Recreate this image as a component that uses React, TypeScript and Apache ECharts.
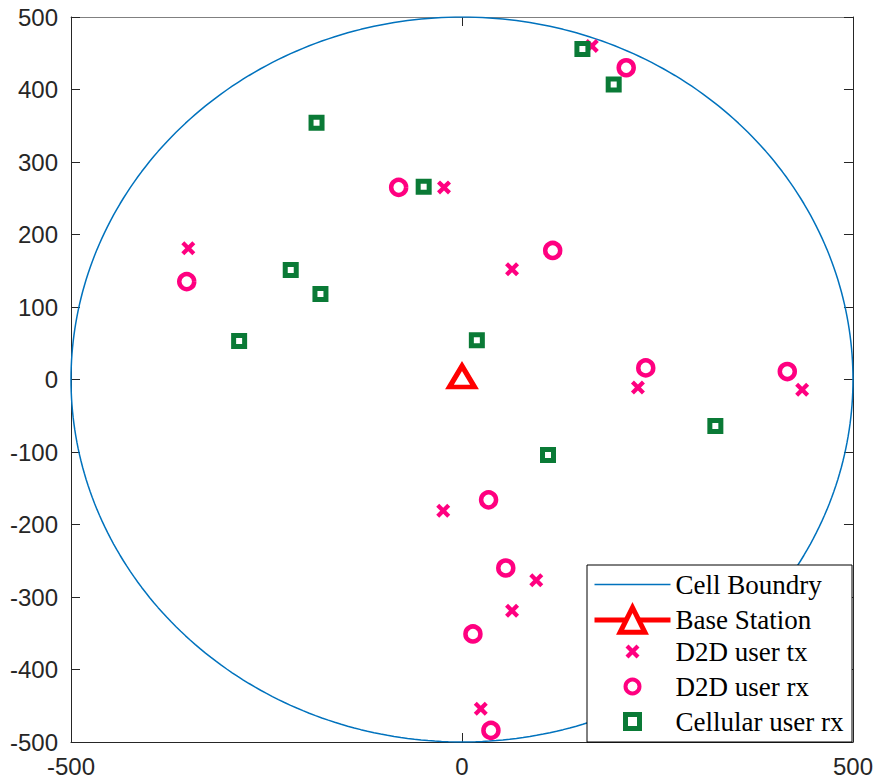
import React, { useEffect, useRef } from "react";
import * as echarts from "echarts";

// Cell geometry
const cellRadius = 500;
const circleSegments = 360;

// Base station position
const bsX = [0];
const bsY = [0];

// D2D transmitters
const txX = [-350, -23, 64, 166, 225, 435, -24, 95, 64, 24];
const txY = [181, 265, 152, 460, -11, -14, -181, -277, -319, -454];

// D2D receivers
const rxX = [-352, -81, 116, 210, 235, 416, 34, 56, 14, 37];
const rxY = [135, 265, 178, 430, 16, 11, -166, -260, -351, -484];

// Cellular users
const cellX = [-186, -49, 154, 194, -219, -181, -285, 19, 110, 324];
const cellY = [354, 266, 456, 407, 151, 118, 53, 54, -104, -64];

const xTicks = { min: -500, max: 500, interval: 500 };
const yTicks = { min: -500, max: 500, interval: 100 };

const seriesNames = ["Cell Boundry", "Base Station", "D2D user tx", "D2D user rx", "Cellular user rx"];

const zip = (xs: number[], ys: number[]) => xs.map((x, i) => [x, ys[i]]);

const X_PATH = "path://M0,3L3,0L7,4L11,0L14,3L10,7L14,11L11,14L7,10L3,14L0,11L4,7Z";
const LINE_ICON = "path://M0,0L76,0L76,1.5L0,1.5Z";
const SQUARE_ICON = "path://M0,0L10,0L10,10L0,10Z";
const MAGENTA = "#FF0080";
const GREEN = "#0A7A36";
const BLUE = "#0072BD";
const RED = "#FF0000";
const AXIS = "#262626";

export default function App() {
  const ref = useRef<HTMLDivElement>(null);
  useEffect(() => {
    document.body.style.margin = "0";
    const chart = echarts.init(ref.current!, null, { renderer: "svg" });
    const circle: number[][] = [];
    for (let i = 0; i <= circleSegments; i++) {
      const t = (i / circleSegments) * Math.PI * 2;
      circle.push([cellRadius * Math.cos(t), cellRadius * Math.sin(t)]);
    }
    const axisCommon = {
      type: "value" as const,
      splitLine: { show: false },
      axisLine: { show: true, onZero: false, lineStyle: { color: AXIS, width: 1 } },
      axisTick: { show: true, inside: true, length: 9, lineStyle: { color: AXIS, width: 1 } },
    };
    const labelStyle = {
      fontFamily: "Liberation Sans, Arial, sans-serif",
      fontSize: 24,
      color: AXIS,
    };
    const legendText = { fontFamily: "Liberation Serif, serif", fontSize: 27, color: "#000" };
    chart.setOption({
      animation: false,
      backgroundColor: "#fff",
      grid: { left: 71, right: 23, top: 17, bottom: 38 },
      xAxis: [
        { ...axisCommon, ...xTicks, position: "bottom", axisLabel: { ...labelStyle, margin: 12 } },
        {
          ...axisCommon,
          ...xTicks,
          position: "top",
          axisLabel: { show: false },
          axisLine: { show: true, onZero: false, lineStyle: { color: "#808080", width: 1 } },
        },
      ],
      yAxis: [
        { ...axisCommon, ...yTicks, position: "left", axisLabel: { ...labelStyle, margin: 13 } },
        { ...axisCommon, ...yTicks, position: "right", axisLabel: { show: false } },
      ],
      legend: [
        {
          data: [
            {
              name: seriesNames[0],
              icon: LINE_ICON,
              itemStyle: { color: BLUE, borderWidth: 0 },
            },
            {
              name: seriesNames[1],
              itemStyle: { color: "#fff", borderColor: RED, borderWidth: 5 },
              lineStyle: { color: RED, width: 5 },
            },
          ],
          orient: "vertical",
          left: 592,
          top: 571,
          padding: 0,
          itemWidth: 76,
          itemHeight: 31,
          itemGap: 7,
          textStyle: legendText,
          selectedMode: false,
        },
        {
          data: [
            { name: seriesNames[2], itemStyle: { color: MAGENTA, borderWidth: 0 } },
            { name: seriesNames[3], itemStyle: { color: "#fff", borderColor: MAGENTA, borderWidth: 4 } },
            {
              name: seriesNames[4],
              icon: SQUARE_ICON,
              itemStyle: { color: "#fff", borderColor: GREEN, borderWidth: 5 },
            },
          ],
          orient: "vertical",
          left: 623,
          top: 638,
          padding: 0,
          itemWidth: 76,
          itemHeight: 14,
          itemGap: 8,
          textStyle: legendText,
          selectedMode: false,
        },
      ],
      graphic: [
        {
          type: "rect",
          z: 3,
          shape: { x: 587, y: 565, width: 265, height: 177 },
          style: { fill: "#fff", stroke: "#000", lineWidth: 1 },
        },
      ],
      series: [
        {
          name: seriesNames[0],
          type: "line",
          data: circle,
          symbol: "none",
          lineStyle: { color: BLUE, width: 1.5 },
          itemStyle: { color: BLUE },
          z: 1,
        },
        {
          name: seriesNames[1],
          type: "line",
          data: zip(bsX, bsY),
          symbol: "triangle",
          symbolSize: [25, 21],
          symbolOffset: [0, -3],
          showSymbol: true,
          lineStyle: { color: RED, width: 5 },
          itemStyle: { color: "#fff", borderColor: RED, borderWidth: 5 },
          z: 2,
        },
        {
          name: seriesNames[2],
          type: "scatter",
          data: zip(txX, txY),
          symbol: X_PATH,
          symbolSize: 14,
          itemStyle: { color: MAGENTA, opacity: 1 },
          z: 2,
        },
        {
          name: seriesNames[3],
          type: "scatter",
          data: zip(rxX, rxY),
          symbol: "circle",
          symbolSize: 15,
          itemStyle: { color: "#fff", borderColor: MAGENTA, borderWidth: 4.5, opacity: 1 },
          z: 2,
        },
        {
          name: seriesNames[4],
          type: "scatter",
          data: zip(cellX, cellY),
          symbol: "rect",
          symbolSize: 11,
          itemStyle: { color: "#fff", borderColor: GREEN, borderWidth: 5, opacity: 1 },
          z: 2,
        },
      ],
    });
    return () => chart.dispose();
  }, []);
  return <div ref={ref} style={{ width: 876, height: 780 }} />;
}
